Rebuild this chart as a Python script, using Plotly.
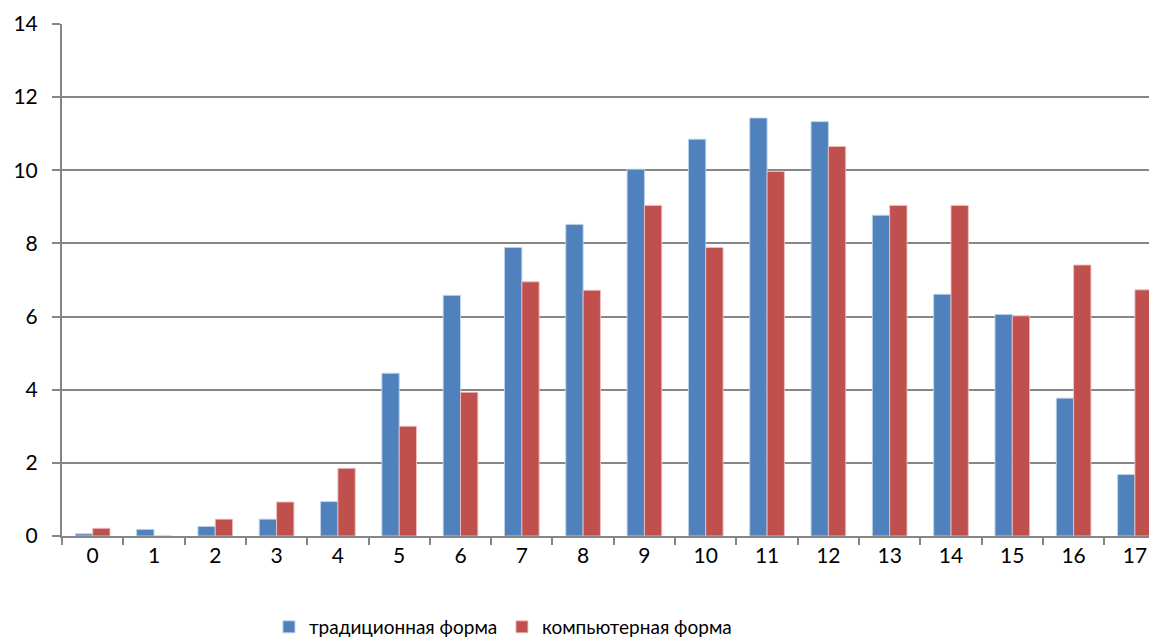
import plotly.graph_objects as go

categories = [str(i) for i in range(18)]
traditional = [0.06, 0.18, 0.26, 0.46, 0.94, 4.45, 6.58, 7.89, 8.52, 10.03,
               10.85, 11.43, 11.33, 8.77, 6.61, 6.06, 3.77, 1.68]
computer = [0.21, 0.0, 0.46, 0.93, 1.85, 3.0, 3.93, 6.95, 6.72, 9.04,
            7.89, 9.97, 10.65, 9.04, 9.04, 6.02, 7.41, 6.73]
series_names = ["традиционная форма", "компьютерная форма"]
y_ticks = [0, 2, 4, 6, 8, 10, 12, 14]

FONT = "Lato, Carlito, 'Liberation Sans', sans-serif"
GRID = "#868686"

fig = go.Figure()
fig.add_trace(go.Bar(x=categories, y=traditional, name=series_names[0],
                     marker=dict(color="#4F81BD", line=dict(color="rgba(190,210,235,0.9)", width=1))))
fig.add_trace(go.Bar(x=categories, y=computer, name=series_names[1],
                     marker=dict(color="#C0504D", line=dict(color="rgba(240,190,190,0.9)", width=1))))

# page body has an 8px margin, so the figure is sized/offset to compensate
fig.update_layout(
    width=1149, height=630,
    margin=dict(l=54, r=0, t=16, b=102),
    paper_bgcolor="white", plot_bgcolor="white",
    barmode="group", bargap=0.435, bargroupgap=0,
    font=dict(family=FONT, size=20, color="black"),
    showlegend=True,
    legend=dict(orientation="h", x=0.189, xanchor="left", xref="paper",
                y=0.0175, yanchor="middle", yref="container",
                font=dict(family=FONT, size=19, color="black"),
                entrywidth=188, traceorder="normal"),
)
fig.update_xaxes(
    type="category", range=[-0.5, 17.36],
    showline=True, linecolor=GRID, linewidth=2,
    ticks="outside", tickson="boundaries", ticklen=7, tickcolor=GRID, tickwidth=2,
    showgrid=False, tickfont=dict(family=FONT, size=21, color="black"),
)
fig.update_yaxes(
    range=[0, 14], tickvals=y_ticks,
    showline=True, linecolor=GRID, linewidth=2,
    ticks="outside", ticklen=8, tickcolor=GRID, tickwidth=2,
    ticklabelstandoff=10,
    showgrid=True, gridcolor=GRID, gridwidth=2,
    zeroline=False, tickfont=dict(family=FONT, size=21, color="black"),
)

fig.write_html("out.html")
